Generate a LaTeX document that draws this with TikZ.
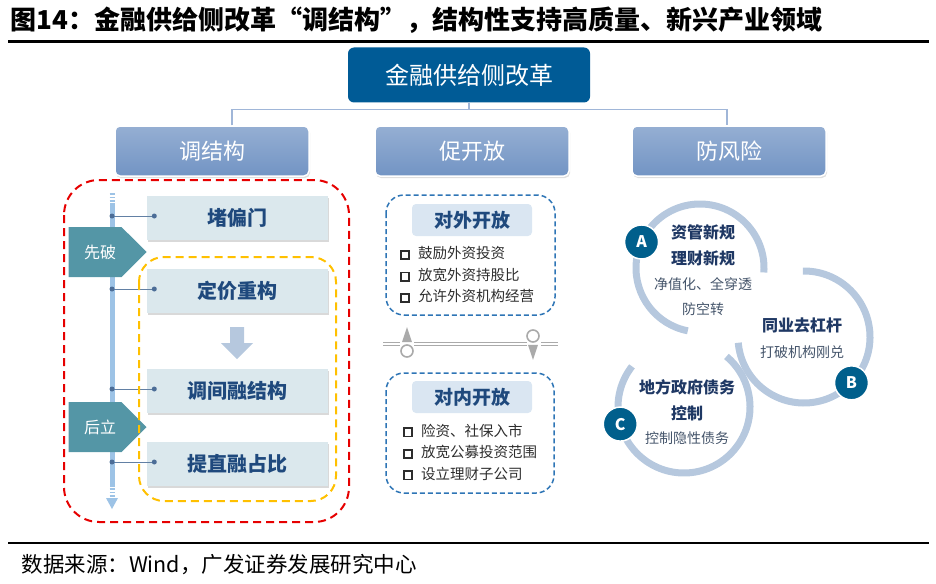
\documentclass[tikz,border=0pt]{standalone}
\usepackage{fontspec}
\setmainfont{Noto Sans CJK SC}
\usetikzlibrary{arrows.meta, positioning, shapes.geometric, shapes.symbols, shadows, calc}
\definecolor{topblue}{RGB}{0,91,150}
\definecolor{subblue}{RGB}{114,148,196}
\definecolor{linkblue}{RGB}{160,182,216}
\definecolor{barblue}{RGB}{157,195,230}
\definecolor{stepfill}{RGB}{219,232,237}
\definecolor{steptext}{RGB}{31,73,125}
\definecolor{tagteal}{RGB}{84,150,166}
\definecolor{arcblue}{RGB}{182,200,222}
\definecolor{badgeblue}{RGB}{0,95,140}
\definecolor{dashblue}{RGB}{46,117,182}
\definecolor{labelfill}{RGB}{218,230,242}
\definecolor{darktext}{RGB}{31,56,100}
\definecolor{softtext}{RGB}{68,84,106}
\definecolor{itemtext}{RGB}{45,45,45}
\definecolor{railgray}{RGB}{170,170,170}
\definecolor{mred}{RGB}{230,0,0}
\definecolor{myellow}{RGB}{255,192,0}
\newcommand\ckbox{\raisebox{0.5pt}{\setlength{\fboxsep}{0pt}\setlength{\fboxrule}{1.7pt}\fbox{\rule{0pt}{6.5pt}\rule{6.5pt}{0pt}}}\hspace{8pt}}

\begin{document}
\begin{tikzpicture}[x=1pt,y=-1pt,
  topbox/.style={fill=topblue,rounded corners=6pt,minimum width=242pt,minimum height=55pt,
  text=white,font=\fontsize{24}{28}\selectfont},
  subbox/.style={top color=subblue!75!white,bottom color=subblue,draw=white,line width=1.5pt,
  rounded corners=5pt,minimum width=194pt,minimum height=50pt,text=white,
  font=\fontsize{22}{26}\selectfont,drop shadow={opacity=0.25,shadow xshift=1pt,shadow yshift=-2pt}},
  link/.style={draw=linkblue,line width=1.2pt},
  stepbox/.style={fill=stepfill,minimum width=181pt,minimum height=44pt,text=steptext,
  font=\fontsize{20}{24}\selectfont\bfseries,drop shadow={opacity=0.3,shadow xshift=1.5pt,shadow yshift=-2pt}},
  tag/.style={signal,signal to=east,signal pointer angle=90,fill=tagteal,minimum width=78pt,
  minimum height=50pt,inner sep=0pt,text=white,font=\fontsize{16}{18}\selectfont},
  dashframe/.style={line width=2pt,dash pattern=on 8pt off 5pt},
  openframe/.style={draw=dashblue,line width=1.5pt,dash pattern=on 5pt off 3pt,rounded corners=18pt},
  tagbox/.style={fill=labelfill,rounded corners=4pt,minimum width=120pt,minimum height=32pt,
  text=steptext,font=\fontsize{19}{22}\selectfont\bfseries},
  itemlist/.style={anchor=west,align=left,inner sep=0pt,text=itemtext,font=\fontsize{14.5}{21.5}\selectfont},
  rail/.style={draw=railgray,double=white,double distance=1.5pt,line width=1.2pt},
  ring/.style={circle,draw=railgray,fill=white,line width=1.6pt,minimum size=12pt,inner sep=0pt},
  arcline/.style={draw=arcblue,line width=7pt},
  badge/.style={circle,fill=badgeblue,draw=white,line width=1.5pt,minimum size=34pt,inner sep=0pt,
  text=white,font=\fontsize{16}{18}\selectfont\bfseries},
  arctitle/.style={align=center,text=darktext,font=\fontsize{16}{26}\selectfont\bfseries},
  arcnote/.style={align=center,text=softtext,font=\fontsize{14}{25}\selectfont},
]
\useasboundingbox (0,0) rectangle (936,583);

\node[anchor=west,font=\fontsize{26}{30}\selectfont\bfseries] (title) at (7,20)
  {图14：金融供给侧改革“调结构”，结构性支持高质量、新兴产业领域};
\draw[line width=3pt] (8,42) -- (929,42);
\draw[line width=2pt] (8,543) -- (929,543);
\node[anchor=west,font=\fontsize{21.5}{24}\selectfont] (src) at (18,565)
  {数据来源：Wind，广发证券发展研究中心};

% top level
\node[topbox] (root) at (469,75) {金融供给侧改革};
\node[subbox] (tiao) at (212,151) {调结构};
\node[subbox] (cu) at (472,151) {促开放};
\node[subbox] (fang) at (729,151) {防风险};
\draw[link] (root.south) -- ++(0,7) coordinate (hub);
\draw[link] ($(tiao.north)+(20,0)$) |- (hub) -| ($(fang.north)+(-2,0)$);

% left panel
\draw[mred,dashframe,rounded corners=35pt] (64,180) rectangle (349,522);
\coordinate (bar) at (112,190);
\draw[barblue,line width=5pt] (112,203) -- (112,487);
\foreach \y in {194,197.5,201,489,492.5,496}
  \draw[barblue,line width=1.6pt] (109.5,\y) -- (114.5,\y);
\fill[barblue] (106,498) -- (118,498) -- (112,509) -- cycle;

\node[stepbox] (dpm) at (237,218) {堵偏门};
\node[stepbox] (djcg) at (237,291) {定价重构};
\node[stepbox] (tjr) at (237,391) {调间融结构};
\node[stepbox] (tzr) at (237,464) {提直融占比};
\foreach \n in {dpm,djcg,tjr,tzr}{
  \draw[steptext!70,line width=0.6pt] ($(\n.west -| bar)+(0,-2)$) -- ($(\n.west)+(8,-2)$);
  \fill[steptext!80] ($(\n.west -| bar)+(0,-2)$) circle (2.5pt) ($(\n.west)+(8,-2)$) circle (2.5pt);
}
\fill[arcblue] ($(djcg.south)+(-7,14)$) -- ++(14,0) -- ++(0,16) -- ++(9,0) -- ++(-16,16)
  -- ++(-16,-16) -- ++(9,0) -- cycle;

\node[tag] (xianpo) at (95,252) {\hspace*{10pt}先破};
\node[tag] (houli) at (95,427) {\hspace*{10pt}后立};
\draw[myellow,dashframe,rounded corners=25pt] (139,257) rectangle (336,501);

% middle panel
\draw[openframe] (386,195) rectangle (555,315);
\node[tagbox] (wai) at (472,220) {对外开放};
\node[itemlist] (wailist) at (400,275)
  {\ckbox 鼓励外资投资\\\ckbox 放宽外资持股比\\\ckbox 允许外资机构经营};
\draw[openframe] (386,373) rectangle (554,493);
\node[tagbox] (nei) at (472,397) {对内开放};
\node[itemlist] (neilist) at (403,452)
  {\ckbox 险资、社保入市\\\ckbox 放宽公募投资范围\\\ckbox 设立理财子公司};

\draw[rail] (383,344) -- (400,344);
\draw[rail] (414,344) -- (527,344);
\draw[rail] (541,344) -- (558,344);
\node[ring] (lo) at (407,351) {};
\node[ring] (hi) at (533,336) {};
\fill[railgray] ($(lo.north)+(-5,-2)$) -- ($(lo.north)+(5,-2)$) -- ($(lo.north)+(0,-17)$) -- cycle;
\fill[railgray] ($(hi.south)+(-5,2)$) -- ($(hi.south)+(5,2)$) -- ($(hi.south)+(0,17)$) -- cycle;

% right panel
\coordinate (ca) at (700,268);
\coordinate (cb) at (804,337);
\coordinate (cc) at (684,407);
\draw[arcline] (ca) ++(4:64) arc[start angle=4,end angle=-259,radius=64];
\draw[arcline] (cb) ++(-185:66) arc[start angle=-185,end angle=-451,radius=66];
\draw[arcline] (cc) ++(-142:66) arc[start angle=-142,end angle=-410,radius=66];
\node[badge] (ba) at ($(ca)+(-156:64)$) {A};
\node[badge] (bb) at ($(cb)+(44:66)$) {B};
\node[badge] (bc) at ($(cc)+(-195:66)$) {C};
\node[arctitle] (ta) at (703,245) {资管新规\\理财新规};
\node[arcnote] (na) at (703,297) {净值化、全穿透\\防空转};
\node[arctitle] (tb) at (802,325) {同业去杠杆};
\node[arcnote] (nb) at (802,352) {打破机构刚兑};
\node[arctitle] (tc) at (687,400) {地方政府债务\\控制};
\node[arcnote] (nc) at (687,438) {控制隐性债务};
\end{tikzpicture}
\end{document}
